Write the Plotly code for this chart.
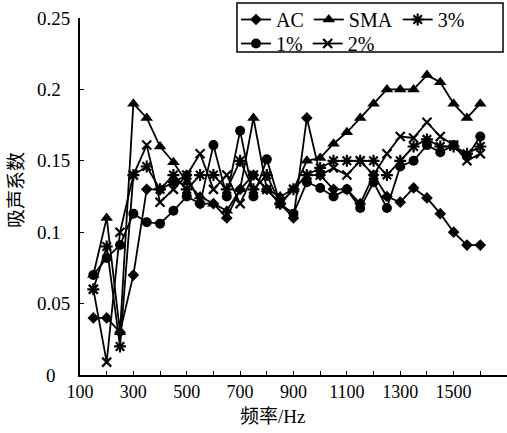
import plotly.graph_objects as go

freq = [150, 200, 250, 300, 350, 400, 450, 500, 550, 600, 650, 700, 750, 800, 850,
        900, 950, 1000, 1050, 1100, 1150, 1200, 1250, 1300, 1350, 1400, 1450, 1500, 1550, 1600]

ac = [0.04, 0.04, 0.03, 0.07, 0.13, 0.13, 0.135, 0.14, 0.12, 0.12, 0.11, 0.13, 0.14, 0.13, 0.12,
      0.11, 0.18, 0.14, 0.13, 0.13, 0.12, 0.14, 0.125, 0.121, 0.131, 0.124, 0.113, 0.10, 0.091, 0.091]
sma = [0.07, 0.11, 0.03, 0.19, 0.18, 0.16, 0.149, 0.135, 0.125, 0.12, 0.115, 0.13, 0.18, 0.13, 0.125,
       0.13, 0.15, 0.152, 0.162, 0.17, 0.18, 0.19, 0.2, 0.2, 0.2, 0.21, 0.205, 0.19, 0.18, 0.19]
p3 = [0.06, 0.09, 0.02, 0.14, 0.146, 0.13, 0.14, 0.13, 0.14, 0.14, 0.13, 0.15, 0.13, 0.14, 0.12,
      0.13, 0.14, 0.145, 0.15, 0.15, 0.15, 0.15, 0.14, 0.15, 0.16, 0.165, 0.16, 0.16, 0.155, 0.16]
p1 = [0.07, 0.082, 0.091, 0.113, 0.107, 0.106, 0.115, 0.125, 0.12, 0.161, 0.125, 0.171, 0.125, 0.151, 0.12,
      0.113, 0.135, 0.131, 0.125, 0.13, 0.117, 0.135, 0.117, 0.146, 0.15, 0.161, 0.156, 0.161, 0.153, 0.167]
p2 = [0.06, 0.009, 0.10, 0.14, 0.161, 0.121, 0.13, 0.14, 0.155, 0.13, 0.14, 0.12, 0.14, 0.13, 0.12,
      0.13, 0.14, 0.14, 0.145, 0.14, 0.15, 0.14, 0.155, 0.167, 0.166, 0.177, 0.167, 0.161, 0.15, 0.155]

x_tickvals = [100, 300, 500, 700, 900, 1100, 1300, 1500]
y_tickvals = [0, 0.05, 0.1, 0.15, 0.2, 0.25]
y_ticktext = ["0", "0.05", "0.1", "0.15", "0.2", "0.25"]

FONT = "Liberation Serif, Noto Sans CJK SC"

series = [
    ("AC", ac, "diamond", 9, "legend"),
    ("SMA", sma, "triangle-up", 11, "legend"),
    ("3%", p3, "asterisk-open", 10, "legend"),
    ("1%", p1, "circle", 10, "legend2"),
    ("2%", p2, "x-thin-open", 9, "legend2"),
]

fig = go.Figure()
for name, vals, sym, sz, lg in series:
    fig.add_trace(go.Scatter(
        x=freq, y=vals, name=name, mode="lines+markers",
        line=dict(color="black", width=1.8),
        marker=dict(symbol=sym, size=sz, color="black",
                    line=dict(color="black", width=2.2 if "open" in sym else 0)),
        legend=lg, cliponaxis=False,
    ))

W, H = 507, 433
L, R, T, B = 80, 0, 18, 58
pw, ph = W - L - R, H - T - B

def px(xp):
    return (xp - L) / pw

def py(yp):
    return (H - B - yp) / ph

# y tick labels: left-aligned text as in the reference
ytick_ann = []
for v, t in zip(y_tickvals, y_ticktext):
    ytick_ann.append(dict(text=t, xref="paper", yref="y", x=px(44 if t == "0" else 35), y=v,
                          xanchor="left", yanchor="middle", showarrow=False,
                          font=dict(size=19, family=FONT)))

fig.update_layout(
    width=W, height=H,
    margin=dict(l=L, r=R, t=T, b=B, autoexpand=False),
    paper_bgcolor="white", plot_bgcolor="white",
    font=dict(family=FONT, size=19, color="black"),
    showlegend=True,
    legend=dict(orientation="h", x=px(236), y=py(0), xanchor="left", yanchor="top",
                bgcolor="rgba(0,0,0,0)", font=dict(size=20), itemwidth=30,
                tracegroupgap=0),
    legend2=dict(orientation="h", x=px(236), y=py(24), xanchor="left", yanchor="top",
                 bgcolor="rgba(0,0,0,0)", font=dict(size=20), itemwidth=30),
    xaxis=dict(range=[100, 1700], tickvals=x_tickvals, ticks="inside", ticklen=4,
               showline=True, linecolor="black", linewidth=1.6, showgrid=False,
               zeroline=False, tickcolor="black", tickfont=dict(size=18),
               minor=dict(tick0=100, dtick=100, ticks="inside", ticklen=4, tickcolor="black")),
    yaxis=dict(range=[0, 0.25], tickvals=y_tickvals, showticklabels=False, ticks="inside",
               ticklen=4, showline=True, linecolor="black", linewidth=1.6, showgrid=False,
               zeroline=False, tickcolor="black"),
    shapes=[dict(type="rect", xref="paper", yref="paper",
                 x0=px(237), x1=px(503), y0=py(52), y1=py(3),
                 line=dict(color="black", width=1.5), fillcolor="rgba(0,0,0,0)")],
    annotations=ytick_ann + [
        dict(text="吸声系数", xref="paper", yref="paper", x=px(17), y=py(190),
             xanchor="center", yanchor="middle",
             textangle=-90, showarrow=False, font=dict(size=19, family=FONT)),
        dict(text="频率/Hz", xref="paper", yref="paper", x=px(272), y=py(416),
             xanchor="center", yanchor="middle",
             showarrow=False, font=dict(size=19, family=FONT)),
    ],
)

fig.write_html("out.html", config={"displayModeBar": False},
               post_script="document.body.style.margin='0';document.body.style.overflow='hidden';")
